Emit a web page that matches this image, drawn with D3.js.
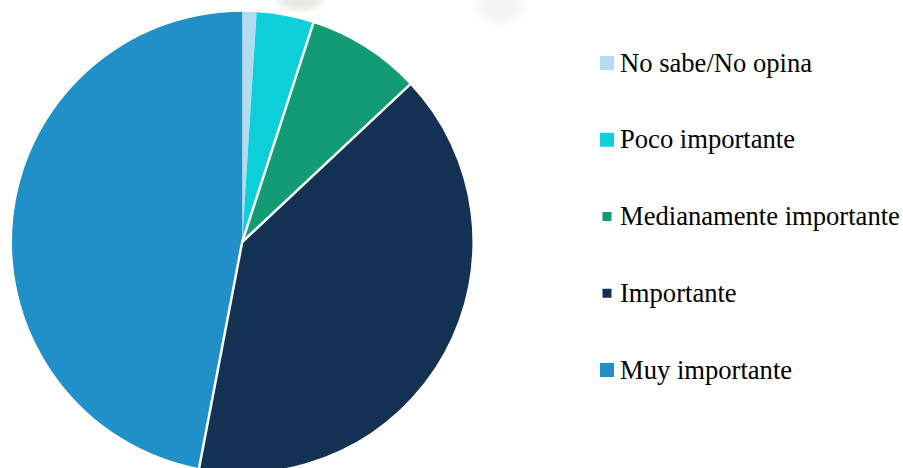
<!DOCTYPE html>
<html>
<head>
<meta charset="utf-8">
<script src="https://cdn.jsdelivr.net/npm/d3@7"></script>
<style>
  html, body { margin: 0; padding: 0; background: #ffffff; }
  svg { display: block; }
</style>
</head>
<body>
<svg id="chart" width="903" height="468"></svg>
<script>
// Survey answers, share of respondents (%)
const categories = ["No sabe/No opina", "Poco importante", "Medianamente importante", "Importante", "Muy importante"];
const values = [1, 4, 8, 40, 47];
const colors = ["#b4dcf0", "#0ccfd9", "#129b74", "#133152", "#2190c9"];
// legend swatch size per entry
const swatchSizes = [14, 14, 9, 9, 14];
// slices that get a white separator on their leading edge
const separated = [false, false, true, true, true];

const svg = d3.select("#chart");
const cx = 242.2, cy = 242, r = 230.2;

// faint grey marks at the top edge
const defs = svg.append("defs");
defs.append("filter").attr("id", "soft")
  .append("feGaussianBlur").attr("stdDeviation", 4);
const marks = [[300, 0, 22, 10, 0.6], [500, 4, 24, 20, 0.25]];
svg.append("g").selectAll("ellipse").data(marks).join("ellipse")
  .attr("cx", d => d[0]).attr("cy", d => d[1])
  .attr("rx", d => d[2]).attr("ry", d => d[3])
  .attr("fill", "#d6d6cc").attr("opacity", d => d[4])
  .attr("filter", "url(#soft)");

const pie = d3.pie().sort(null).value(d => d)
  .startAngle(0).endAngle(2 * Math.PI);
const arcs = pie(values);
const arc = d3.arc().innerRadius(0).outerRadius(r);

const g = svg.append("g").attr("transform", `translate(${cx},${cy})`);
g.selectAll("path.slice").data(arcs).join("path")
  .attr("class", "slice")
  .attr("d", arc)
  .attr("fill", (d, i) => colors[i]);

// white separators between the larger slices
g.selectAll("line.sep").data(arcs.filter((d, i) => separated[i])).join("line")
  .attr("class", "sep")
  .attr("x1", 0).attr("y1", 0)
  .attr("x2", d => Math.sin(d.startAngle) * (r + 2))
  .attr("y2", d => -Math.cos(d.startAngle) * (r + 2))
  .attr("stroke", "#ffffff").attr("stroke-width", 2.5);

// legend
const y = d3.scalePoint().domain(categories).range([63, 370]);
const legend = svg.append("g").selectAll("g").data(categories).join("g")
  .attr("transform", d => `translate(0,${y(d)})`);
legend.append("rect")
  .attr("x", (d, i) => 607 - swatchSizes[i] / 2)
  .attr("y", (d, i) => -swatchSizes[i] / 2)
  .attr("width", (d, i) => swatchSizes[i])
  .attr("height", (d, i) => swatchSizes[i])
  .attr("fill", (d, i) => colors[i]);
legend.append("text")
  .attr("x", 620).attr("y", 8.5)
  .attr("font-family", "'Liberation Serif', 'Times New Roman', serif")
  .attr("font-size", 26.6)
  .attr("fill", "#000000")
  .text(d => d);
</script>
</body>
</html>
